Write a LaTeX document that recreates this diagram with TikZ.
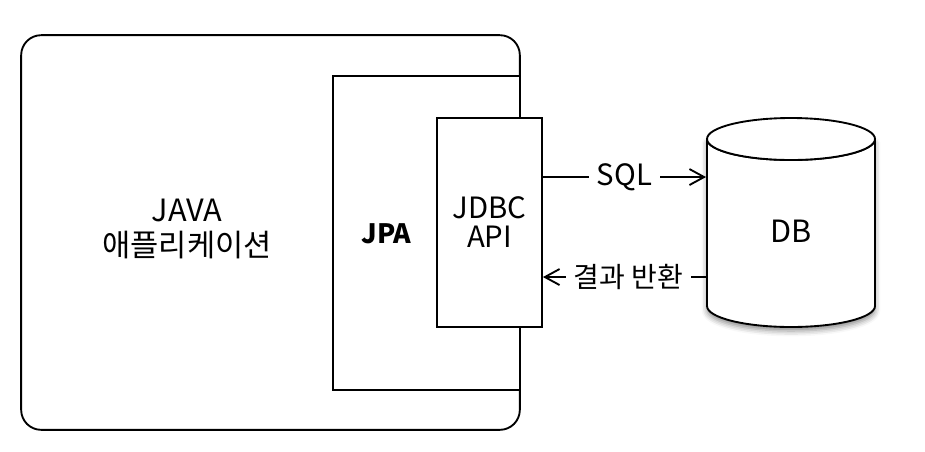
\documentclass[tikz,border=0pt]{standalone}
\usepackage{fontspec}
\setmainfont{Noto Sans CJK KR}
\usetikzlibrary{arrows.meta,shadows.blur}

\begin{document}
\begin{tikzpicture}[
		x=0.75pt,
		y=-0.75pt,
		line width=1.4pt,
		font=\fontsize{23}{26}\selectfont,
		box/.style={draw, fill=white, inner sep=0pt},
		lbl/.style={align=center, inner sep=0pt},
		flow/.style={-{Straight Barb[length=11pt,width=12pt,line width=1.4pt]}},
		msg/.style={fill=white, inner sep=0pt, inner xsep=6pt, minimum height=20pt, font=\fontsize{21}{24}\selectfont}
	]
		\useasboundingbox (0,0) rectangle (925,451);

		\node[box, rounded corners=15pt, minimum width=374pt, minimum height=296pt] (app) at (270.5,232.5) {};
		\node[lbl] (applabel) at (187,229) {JAVA\\애플리케이션};

		\node[box, minimum width=140.25pt, minimum height=235.5pt] (jpa) at (426.5,233) {};
		\node[lbl, font=\fontsize{20}{22}\selectfont\bfseries] (jpalabel) at (386.5,234) {JPA};

		\node[box, align=center, minimum width=78.75pt, minimum height=156.75pt, font=\fontsize{22}{21.75}\selectfont] (jdbc) at (489.5,222.5) {JDBC\\API};

		% database cylinder
		\draw[fill=white, blur shadow={shadow xshift=0pt, shadow yshift=-3pt, shadow blur radius=4pt, shadow opacity=45}]
			(707,139) -- (707,306) arc[start angle=180, end angle=0, x radius=84, y radius=21]
			-- (875,139) arc[start angle=0, end angle=180, x radius=84, y radius=21] -- cycle;
		\draw[fill=white] (791,139) ellipse [x radius=84, y radius=21];
		\node[lbl, minimum width=126pt] (db) at (791,231) {DB};

		\coordinate (sqlfrom) at ([yshift=34.1pt]jdbc.east);
		\coordinate (resfrom) at ([yshift=-40.9pt]jdbc.east);

		\draw[flow] (sqlfrom) -- node[msg, font=\fontsize{22}{24}\selectfont] {SQL} (sqlfrom -| db.west);
		\draw[flow] (resfrom -| db.west) -- node[msg, xshift=3pt] {결과 반환} (resfrom);
	\end{tikzpicture}
\end{document}
